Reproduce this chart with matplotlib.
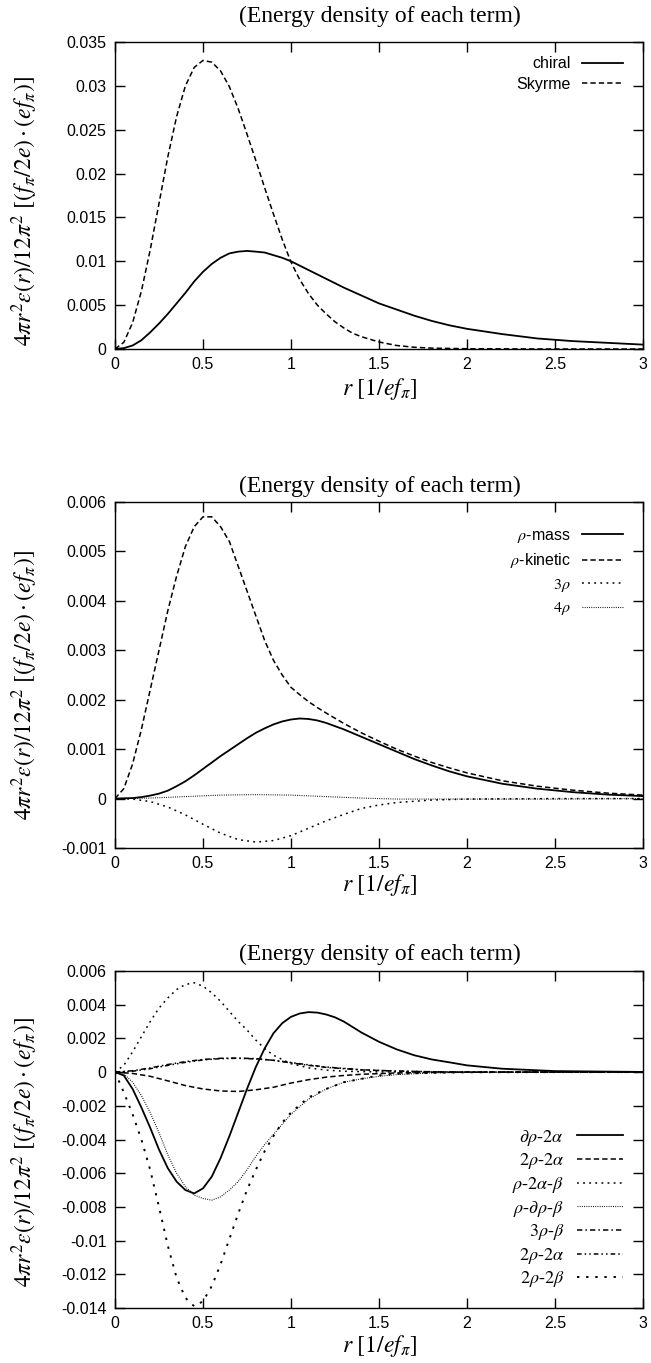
import numpy as np
import matplotlib
matplotlib.use("Agg")
import matplotlib.pyplot as plt

plt.rcParams['font.family'] = ['Liberation Sans', 'DejaVu Sans']
plt.rcParams['mathtext.fontset'] = 'stix'

# ---- panel 1: chiral / Skyrme ----
r_chiral = [0, 0.05, 0.1, 0.15, 0.2, 0.25, 0.3, 0.35, 0.4, 0.45, 0.5, 0.55, 0.6, 0.65, 0.7, 0.75,
            0.8, 0.85, 0.9, 0.95, 1.0, 1.1, 1.2, 1.3, 1.4, 1.5, 1.6, 1.7, 1.8, 1.9, 2.0, 2.2,
            2.4, 2.6, 2.8, 3.0]
chiral = [0, 0.0001, 0.0004, 0.0010, 0.0019, 0.0029, 0.0040, 0.0052, 0.0064, 0.0077, 0.0088,
          0.0097, 0.0104, 0.0109, 0.0111, 0.01118, 0.0111, 0.0110, 0.0107, 0.0104, 0.0100,
          0.0090, 0.0080, 0.0070, 0.0061, 0.0052, 0.0045, 0.0038, 0.0032, 0.0027, 0.0023,
          0.0017, 0.0012, 0.0009, 0.0007, 0.0005]
r_skyrme = [0, 0.05, 0.1, 0.15, 0.2, 0.25, 0.3, 0.35, 0.4, 0.45, 0.5, 0.55, 0.6, 0.65, 0.7, 0.75,
            0.8, 0.85, 0.9, 0.95, 1.0, 1.05, 1.1, 1.15, 1.2, 1.25, 1.3, 1.35, 1.4, 1.5, 1.6,
            1.7, 1.8, 2.0, 2.5, 3.0]
skyrme = [0, 0.00076, 0.0030, 0.0066, 0.0113, 0.0166, 0.0219, 0.0265, 0.0300, 0.0321, 0.0329,
          0.0327, 0.0317, 0.0299, 0.0274, 0.0245, 0.0215, 0.0184, 0.0154, 0.0125, 0.0099,
          0.0079, 0.0063, 0.0050, 0.0040, 0.0031, 0.0024, 0.0018, 0.0014, 0.0008, 0.0004,
          0.0002, 0.0001, 0.00003, 0, 0]

# ---- panel 2: rho terms ----
r_rmass = [0, 0.1, 0.15, 0.2, 0.25, 0.3, 0.35, 0.4, 0.45, 0.5, 0.55, 0.6, 0.65, 0.7, 0.75, 0.8,
           0.85, 0.9, 0.95, 1.0, 1.05, 1.1, 1.15, 1.2, 1.3, 1.4, 1.5, 1.6, 1.7, 1.8, 1.9, 2.0,
           2.2, 2.4, 2.6, 2.8, 3.0]
rmass = [0, 0.00001, 0.00003, 0.00006, 0.0001, 0.00016, 0.00025, 0.00035, 0.00047, 0.0006,
         0.00073, 0.00086, 0.00098, 0.0011, 0.00122, 0.00133, 0.00142, 0.0015, 0.00156, 0.0016,
         0.00162, 0.00161, 0.00158, 0.00153, 0.0014, 0.00125, 0.0011, 0.00095, 0.0008,
         0.00067, 0.00055, 0.00045, 0.0003, 0.0002, 0.00013, 0.00008, 0.00005]
r_rkin = [0, 0.05, 0.1, 0.15, 0.2, 0.25, 0.3, 0.35, 0.4, 0.45, 0.5, 0.55, 0.6, 0.65, 0.7, 0.75,
          0.8, 0.85, 0.9, 0.95, 1.0, 1.05, 1.1, 1.15, 1.2, 1.3, 1.4, 1.5, 1.6, 1.7, 1.8, 1.9,
          2.0, 2.2, 2.4, 2.6, 2.8, 3.0]
rkin = [0, 0.0002, 0.0007, 0.0014, 0.0022, 0.0030, 0.0038, 0.0045, 0.0051, 0.0055, 0.0057,
        0.0057, 0.0055, 0.0052, 0.0047, 0.0042, 0.0037, 0.0032, 0.0028, 0.0025, 0.00225,
        0.0021, 0.00196, 0.00184, 0.00173, 0.00152, 0.00133, 0.00116, 0.0010, 0.00086,
        0.00073, 0.00062, 0.00052, 0.00036, 0.00025, 0.00017, 0.00011, 0.00007]
r_3rho = [0, 0.1, 0.2, 0.3, 0.4, 0.5, 0.6, 0.7, 0.8, 0.9, 1.0, 1.1, 1.2, 1.3, 1.4, 1.5, 1.6,
          1.8, 2.0, 2.5, 3.0]
rho3 = [0, -0.00001, -0.00006, -0.00017, -0.00033, -0.00052, -0.0007, -0.00083, -0.00088,
        -0.00085, -0.00075, -0.0006, -0.00045, -0.00032, -0.0002, -0.00013, -0.00008,
        -0.00003, -0.00001, 0, 0]
r_4rho = [0, 0.2, 0.4, 0.6, 0.8, 1.0, 1.2, 1.4, 1.6, 2.0, 2.5, 3.0]
rho4 = [0, 0.00001, 0.00004, 0.00007, 0.00008, 0.00007, 0.00004, 0.00001, -0.00001,
        -0.00001, -0.00001, 0]

# ---- panel 3: alpha / beta terms ----
r_d2a = [0, 0.05, 0.1, 0.15, 0.2, 0.25, 0.3, 0.35, 0.4, 0.45, 0.5, 0.55, 0.6, 0.65, 0.7, 0.75,
         0.8, 0.85, 0.9, 0.95, 1.0, 1.05, 1.1, 1.15, 1.2, 1.25, 1.3, 1.4, 1.5, 1.6, 1.7, 1.8,
         1.9, 2.0, 2.2, 2.5, 3.0]
d2a = [0, -0.0002, -0.001, -0.0021, -0.0033, -0.0046, -0.0057, -0.0065, -0.0070, -0.0072,
       -0.0069, -0.0062, -0.0051, -0.0038, -0.0024, -0.0010, 0.0003, 0.0014, 0.0023, 0.0029,
       0.00328, 0.00348, 0.00356, 0.00353, 0.00342, 0.00325, 0.0030, 0.00235, 0.0018,
       0.00135, 0.001, 0.00075, 0.00058, 0.0004, 0.0002, 0.00006, 0.00001]
r_2r2a = [0, 0.1, 0.2, 0.3, 0.4, 0.5, 0.6, 0.7, 0.8, 0.9, 1.0, 1.1, 1.2, 1.3, 1.4, 1.6, 1.8,
          2.0, 3.0]
r2r2a = [0, -0.00008, -0.00025, -0.00052, -0.0008, -0.001, -0.00112, -0.00115, -0.00105,
         -0.0009, -0.00065, -0.00045, -0.0003, -0.0002, -0.00013, -0.00005, -0.00002, 0, 0]
r_r2ab = [0, 0.05, 0.1, 0.15, 0.2, 0.25, 0.3, 0.35, 0.4, 0.45, 0.5, 0.55, 0.6, 0.65, 0.7, 0.75,
          0.8, 0.85, 0.9, 1.0, 1.1, 1.2, 1.3, 1.5, 2.0, 3.0]
r2ab = [0, 0.0004, 0.0012, 0.0021, 0.0030, 0.0038, 0.0044, 0.0049, 0.0052, 0.0053, 0.0051,
        0.0047, 0.0042, 0.0036, 0.0030, 0.0025, 0.0019, 0.0014, 0.0010, 0.0005, 0.00025,
        0.00012, 0.00005, 0.00001, 0, 0]
r_rdrb = [0, 0.05, 0.1, 0.15, 0.2, 0.25, 0.3, 0.35, 0.4, 0.45, 0.5, 0.55, 0.6, 0.65, 0.7, 0.75,
          0.8, 0.85, 0.9, 1.0, 1.1, 1.2, 1.3, 1.4, 1.5, 1.6, 1.8, 2.0, 2.5, 3.0]
rdrb = [0, -0.0001, -0.0006, -0.0014, -0.0024, -0.0036, -0.0049, -0.0060, -0.0068, -0.0073,
        -0.0075, -0.0076, -0.0074, -0.0070, -0.0065, -0.0058, -0.0050, -0.0043, -0.0037,
        -0.0025, -0.0016, -0.0010, -0.0006, -0.0004, -0.00025, -0.00015, -0.00005, -0.00002,
        0, 0]
r_3rb = [0, 0.1, 0.2, 0.3, 0.4, 0.5, 0.6, 0.7, 0.8, 0.9, 1.0, 1.1, 1.2, 1.4, 1.6, 1.8, 2.0, 3.0]
r3rb = [0, 0.00008, 0.00025, 0.00045, 0.00062, 0.00075, 0.00082, 0.00083, 0.0008, 0.0007,
        0.00055, 0.0004, 0.00028, 0.00013, 0.00006, 0.00002, 0, 0]
r2r2a_b = [0, 0.00005, 0.0002, 0.0004, 0.00058, 0.00072, 0.0008, 0.00082, 0.00078, 0.0007,
           0.00057, 0.00043, 0.0003, 0.00014, 0.00006, 0.00002, 0, 0]
r_2r2b = [0, 0.05, 0.1, 0.15, 0.2, 0.25, 0.3, 0.35, 0.4, 0.45, 0.5, 0.55, 0.6, 0.65, 0.7, 0.75,
          0.8, 0.85, 0.9, 0.95, 1.0, 1.1, 1.2, 1.3, 1.4, 1.5, 1.6, 1.8, 2.0, 2.5, 3.0]
r2r2b = [0, -0.0012, -0.0025, -0.0040, -0.0058, -0.0080, -0.0103, -0.0122, -0.0134, -0.0139,
         -0.0136, -0.0127, -0.0114, -0.0099, -0.0084, -0.0070, -0.0058, -0.0047, -0.0038,
         -0.0030, -0.0024, -0.0015, -0.0010, -0.0006, -0.0004, -0.0002, -0.0001, -0.00004,
         -0.00001, 0, 0]

W, H = 651, 1363
fig = plt.figure(figsize=(W / 100, H / 100), dpi=100)

def add_ax(left, top, right, bottom):
    return fig.add_axes([left / W, 1 - bottom / H, (right - left) / W, (bottom - top) / H])

ylab = r'$4\pi r^{2}\varepsilon(r)/12\pi^{2}\ [(f_{\pi}/2e)\cdot(ef_{\pi})]$'
xlab = r'$r\ [1/ef_{\pi}]$'

solid = dict(color='black', lw=1.3, linestyle='-')
dashed = dict(color='black', lw=1.1, linestyle=(0, (3.5, 2)))
dotted = dict(color='black', lw=1.1, linestyle=(0, (1.2, 2.8)))
fine = dict(color='black', lw=0.8, linestyle=(0, (0.8, 1.2)))
dashdot = dict(color='black', lw=1.1, linestyle=(0, (3.5, 2, 1, 2)))
dashdotdot = dict(color='black', lw=1.1, linestyle=(0, (3, 2, 1, 2, 1, 2)))
coarse = dict(color='black', lw=1.4, linestyle=(0, (1.2, 3.5)))

def fmt(v):
    if abs(v) < 1e-12:
        return '0'
    return '%g' % v

def style(ax, ymin, ymax, ystep):
    ax.set_xlim(0, 3)
    ax.set_ylim(ymin, ymax)
    ax.set_xticks([0, 0.5, 1, 1.5, 2, 2.5, 3])
    ax.set_xticklabels(['0', '0.5', '1', '1.5', '2', '2.5', '3'])
    yt = np.round(np.arange(ymin, ymax + ystep / 2, ystep), 6)
    ax.set_yticks(yt)
    ax.set_yticklabels([fmt(v) for v in yt])
    ax.tick_params(direction='in', length=7, width=1, top=True, right=True,
                   labelsize=11.5, pad=6)
    for s in ax.spines.values():
        s.set_linewidth(1.0)

def legend(ax, anchor, fontsize, spacing, family=None, loc='upper right'):
    prop = {'size': fontsize}
    if family:
        prop['family'] = family
    ax.legend(loc=loc, bbox_to_anchor=anchor, frameon=False, markerfirst=False, prop=prop,
              handlelength=2.6, handletextpad=0.7, labelspacing=spacing,
              borderaxespad=0.0, borderpad=0.0)

# panel 1
ax1 = add_ax(115, 42, 643, 349)
ax1.plot(r_chiral, chiral, label='chiral', **solid)
ax1.plot(r_skyrme, skyrme, label='Skyrme', **dashed)
style(ax1, 0, 0.035, 0.005)
legend(ax1, (0.963, 0.954), 11.5, 0.35)

# panel 2
ax2 = add_ax(115, 502, 643, 848)
ax2.plot(r_rmass, rmass, label=r'$\rho$-mass', **solid)
ax2.plot(r_rkin, rkin, label=r'$\rho$-kinetic', **dashed)
ax2.plot(r_3rho, rho3, label=r'$3\rho$', **dotted)
ax2.plot(r_4rho, rho4, label=r'$4\rho$', **fine)
style(ax2, -0.001, 0.006, 0.001)
legend(ax2, (0.963, 0.925), 11.5, 0.4)

# panel 3
ax3 = add_ax(115, 971, 643, 1308)
ax3.plot(r_d2a, d2a, label=r'$\partial\rho$-$2\alpha$', **solid)
ax3.plot(r_2r2a, r2r2a, label=r'$2\rho$-$2\alpha$', **dashed)
ax3.plot(r_r2ab, r2ab, label=r'$\rho$-$2\alpha$-$\beta$', **dotted)
ax3.plot(r_rdrb, rdrb, label=r'$\rho$-$\partial\rho$-$\beta$', **fine)
ax3.plot(r_3rb, r3rb, label=r'$3\rho$-$\beta$', **dashdot)
ax3.plot(r_3rb, r2r2a_b, label=r'$2\rho$-$2\alpha$', **dashdotdot)
ax3.plot(r_2r2b, r2r2b, label=r'$2\rho$-$2\beta$', **coarse)
style(ax3, -0.014, 0.006, 0.002)
legend(ax3, (0.963, 0.055), 13, 0.2, family='Liberation Serif', loc='lower right')

# titles, axis labels
for ytitle in (16, 486, 954):
    fig.text(380 / W, 1 - ytitle / H, '(Energy density of each term)', ha='center', va='center',
             fontsize=17, family='Liberation Serif')
for yl in (211, 685, 1152):
    fig.text(25 / W, 1 - yl / H, ylab, rotation=90, ha='center', va='center', fontsize=17)
for xl in (389, 885, 1346):
    fig.text(380 / W, 1 - xl / H, xlab, ha='center', va='center', fontsize=17)

fig.savefig('out.png', dpi=100, facecolor='white')
